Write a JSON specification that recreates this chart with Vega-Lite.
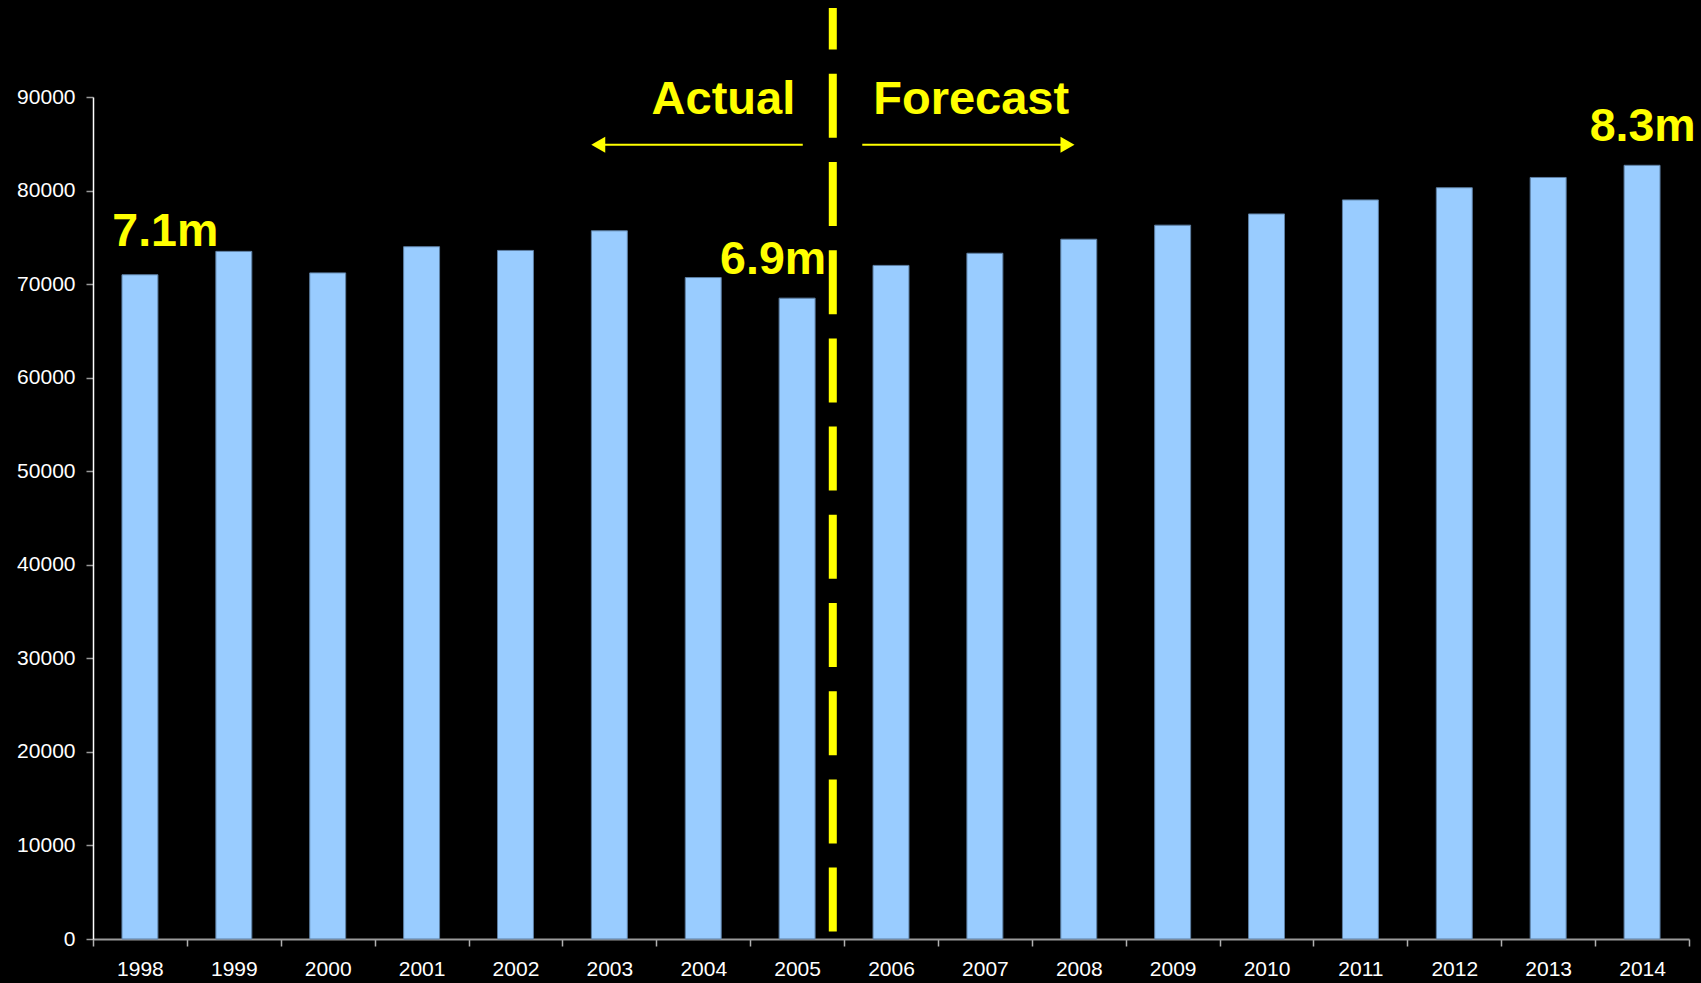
{
  "$schema": "https://vega.github.io/schema/vega-lite/v6.json",
  "width": 1596,
  "height": 842,
  "autosize": "none",
  "padding": {"left": 93, "top": 97, "right": 12, "bottom": 44},
  "background": "#000000",
  "config": {
    "view": {"stroke": null},
    "font": "Liberation Sans"
  },
  "datasets": {
    "visitors": [
      {"year": "1998", "value": 71000, "label": "7.1m"},
      {"year": "1999", "value": 73500, "label": ""},
      {"year": "2000", "value": 71200, "label": ""},
      {"year": "2001", "value": 74000, "label": ""},
      {"year": "2002", "value": 73600, "label": ""},
      {"year": "2003", "value": 75700, "label": ""},
      {"year": "2004", "value": 70700, "label": ""},
      {"year": "2005", "value": 68500, "label": "6.9m"},
      {"year": "2006", "value": 72000, "label": ""},
      {"year": "2007", "value": 73300, "label": ""},
      {"year": "2008", "value": 74800, "label": ""},
      {"year": "2009", "value": 76300, "label": ""},
      {"year": "2010", "value": 77500, "label": ""},
      {"year": "2011", "value": 79000, "label": ""},
      {"year": "2012", "value": 80300, "label": ""},
      {"year": "2013", "value": 81400, "label": ""},
      {"year": "2014", "value": 82700, "label": "8.3m"}
    ],
    "divider": [
      {"at": 2005.38, "from": 790, "to": 99500}
    ],
    "arrows": [
      {"from": 2005.06, "to": 2002.86, "level": 84900},
      {"from": 2005.694, "to": 2007.9, "level": 84900}
    ],
    "heads": [
      {"tip": 2002.882, "level": 84900, "dir": "left"},
      {"tip": 2007.88, "level": 84900, "dir": "right"}
    ],
    "periods": [
      {"word": "Actual", "at": 2004.215, "level": 88200},
      {"word": "Forecast", "at": 2006.854, "level": 88200}
    ]
  },
  "layer": [
    {
      "data": {"name": "visitors"},
      "encoding": {
        "x": {
          "field": "year",
          "type": "ordinal",
          "scale": {"paddingInner": 0, "paddingOuter": 0},
          "axis": {
            "title": null,
            "labelAngle": 0,
            "labelFont": "Liberation Sans",
            "labelFontSize": 21,
            "labelColor": "#ffffff",
            "labelPadding": 12,
            "tickBand": "extent",
            "tickSize": 7,
            "tickColor": "#b0b0b0",
            "tickWidth": 1.5,
            "domainColor": "#9a9a9a",
            "domainWidth": 2,
            "grid": false
          }
        },
        "y": {
          "field": "value",
          "type": "quantitative",
          "scale": {"domain": [0, 90000], "nice": false},
          "axis": {
            "title": null,
            "values": [0, 10000, 20000, 30000, 40000, 50000, 60000, 70000, 80000, 90000],
            "format": "d",
            "labelFont": "Liberation Sans",
            "labelFontSize": 21,
            "labelColor": "#ffffff",
            "labelPadding": 11,
            "tickSize": 7,
            "tickColor": "#9a9a9a",
            "tickWidth": 1.5,
            "domainColor": "#ffffff",
            "domainWidth": 1.5,
            "grid": false
          }
        }
      },
      "layer": [
        {
          "mark": {
            "type": "bar",
            "width": {"band": 0.383},
            "color": "#99CCFF",
            "stroke": "#5d7fa3",
            "strokeWidth": 1
          }
        },
        {
          "transform": [{"filter": "datum.year == '1998'"}],
          "mark": {
            "type": "text",
            "align": "left",
            "baseline": "alphabetic",
            "dx": -27.6,
            "dy": -28.3,
            "font": "Liberation Sans",
            "fontSize": 46.5,
            "fontWeight": "bold",
            "color": "#FFFF00"
          },
          "encoding": {"text": {"field": "label"}}
        },
        {
          "transform": [{"filter": "datum.year == '2005'"}],
          "mark": {
            "type": "text",
            "align": "right",
            "baseline": "alphabetic",
            "dx": 29,
            "dy": -24,
            "font": "Liberation Sans",
            "fontSize": 46.5,
            "fontWeight": "bold",
            "color": "#FFFF00"
          },
          "encoding": {"text": {"field": "label"}}
        },
        {
          "transform": [{"filter": "datum.year == '2014'"}],
          "mark": {
            "type": "text",
            "align": "center",
            "baseline": "alphabetic",
            "dx": 0.6,
            "dy": -24.3,
            "font": "Liberation Sans",
            "fontSize": 46.5,
            "fontWeight": "bold",
            "color": "#FFFF00"
          },
          "encoding": {"text": {"field": "label"}}
        }
      ]
    },
    {
      "layer": [
        {
          "data": {"name": "divider"},
          "mark": {
            "type": "rule",
            "color": "#FFFF00",
            "strokeWidth": 8,
            "strokeDash": [64, 24.2],
            "strokeCap": "butt"
          },
          "encoding": {
            "x": {"field": "at", "type": "quantitative", "scale": {"domain": [1997.5, 2014.5], "nice": false, "zero": false}, "axis": null},
            "y": {"field": "from", "type": "quantitative", "scale": {"domain": [0, 90000], "nice": false}, "axis": null},
            "y2": {"field": "to"}
          }
        },
        {
          "data": {"name": "arrows"},
          "mark": {"type": "rule", "color": "#FFFF00", "strokeWidth": 2},
          "encoding": {
            "x": {"field": "from", "type": "quantitative", "scale": {"domain": [1997.5, 2014.5], "nice": false, "zero": false}, "axis": null},
            "x2": {"field": "to"},
            "y": {"field": "level", "type": "quantitative", "scale": {"domain": [0, 90000], "nice": false}, "axis": null}
          }
        },
        {
          "data": {"name": "heads"},
          "mark": {"type": "point", "filled": true, "size": 260, "color": "#FFFF00", "opacity": 1, "strokeWidth": 0},
          "encoding": {
            "x": {"field": "tip", "type": "quantitative", "scale": {"domain": [1997.5, 2014.5], "nice": false, "zero": false}, "axis": null},
            "y": {"field": "level", "type": "quantitative", "scale": {"domain": [0, 90000], "nice": false}, "axis": null},
            "shape": {
              "field": "dir",
              "type": "nominal",
              "scale": {"domain": ["left", "right"], "range": ["triangle-left", "triangle-right"]},
              "legend": null
            }
          }
        },
        {
          "data": {"name": "periods"},
          "mark": {
            "type": "text",
            "align": "center",
            "baseline": "alphabetic",
            "font": "Liberation Sans",
            "fontSize": 47,
            "fontWeight": "bold",
            "color": "#FFFF00"
          },
          "encoding": {
            "x": {"field": "at", "type": "quantitative", "scale": {"domain": [1997.5, 2014.5], "nice": false, "zero": false}, "axis": null},
            "y": {"field": "level", "type": "quantitative", "scale": {"domain": [0, 90000], "nice": false}, "axis": null},
            "text": {"field": "word"}
          }
        }
      ]
    }
  ],
  "resolve": {"scale": {"x": "independent", "y": "independent"}}
}
